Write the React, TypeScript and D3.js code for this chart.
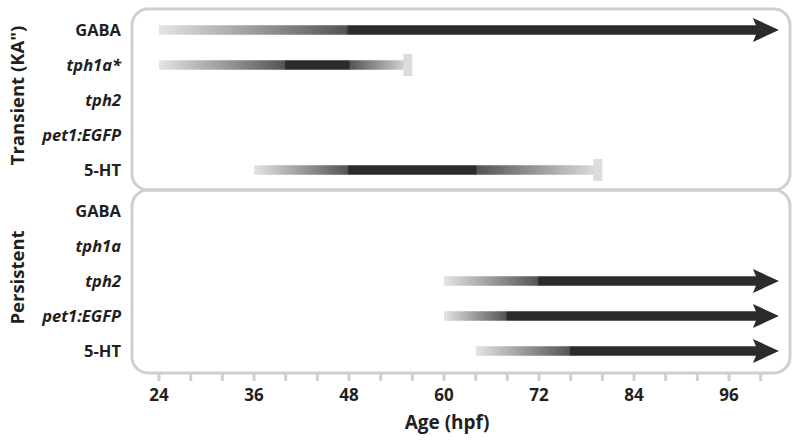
import React from 'react'
import * as d3 from 'd3'

// row labels of the two panels
const transientRows = ['GABA', 'tph1a*', 'tph2', 'pet1:EGFP', '5-HT']
const persistentRows = ['GABA', 'tph1a', 'tph2', 'pet1:EGFP', '5-HT']
const italicRows = ['tph1a*', 'tph1a', 'tph2', 'pet1:EGFP']
const panelTitles = ['Transient (KA")', 'Persistent']

// expression bars: start (hpf), where it reaches full dark, where it starts fading, end
const transientBars = [
  { row: 'GABA', start: 24, darkFrom: 48, darkTo: null, end: 102.3, ending: 'arrow' },
  { row: 'tph1a*', start: 24, darkFrom: 40, darkTo: 48, end: 56, ending: 'cap' },
  { row: '5-HT', start: 36, darkFrom: 48, darkTo: 64, end: 80, ending: 'cap' },
]
const persistentBars = [
  { row: 'tph2', start: 60, darkFrom: 72, darkTo: null, end: 102.3, ending: 'arrow' },
  { row: 'pet1:EGFP', start: 60, darkFrom: 68, darkTo: null, end: 102.3, ending: 'arrow' },
  { row: '5-HT', start: 64, darkFrom: 76, darkTo: null, end: 102.3, ending: 'arrow' },
]

const minorTicks = d3.range(24, 101, 4)
const labelTicks = [24, 36, 48, 60, 72, 84, 96]

const W = 800
const H = 442
const LIGHT = '#e4e4e4'
const MID = '#555555'
const DARK = '#2b2b2b'
const BOX = '#cfcfcf'
const FONT = '"Open Sans", "Noto Sans", sans-serif'

const x = d3.scaleLinear().domain([24, 100]).range([159, 760.7])

const panels = [
  { title: panelTitles[0], rows: transientRows, bars: transientBars, top: 9, bottom: 190 },
  { title: panelTitles[1], rows: persistentRows, bars: persistentBars, top: 190, bottom: 373 },
]

export default function App() {
  const boxLeft = 132
  const boxRight = 790
  const r = 16
  const barH = 9.5

  return (
    <div style={{ position: 'fixed', left: 0, top: 0 }}>
      <svg width={W} height={H} style={{ display: 'block', background: '#fff' }} fontFamily={FONT}>
        <defs>
          {panels.map((p, pi) =>
            p.bars.map((b, bi) => {
              const x1 = x(b.start)
              const x2 = x(b.end)
              const off = (v: number) => (x(v) - x1) / (x2 - x1)
              const stops: [number, string][] = [
                [0, LIGHT],
                [off(b.darkFrom) - 0.005, MID],
                [off(b.darkFrom), DARK],
              ]
              if (b.darkTo != null) {
                stops.push([off(b.darkTo), DARK])
                stops.push([off(b.darkTo) + 0.005, MID])
                stops.push([1, LIGHT])
              } else {
                stops.push([1, DARK])
              }
              return (
                <linearGradient key={`g${pi}-${bi}`} id={`grad-${pi}-${bi}`} gradientUnits="userSpaceOnUse" x1={x1} x2={x2} y1={0} y2={0}>
                  {stops.map((s, si) => (
                    <stop key={si} offset={Math.max(0, Math.min(1, s[0]))} stopColor={s[1]} />
                  ))}
                </linearGradient>
              )
            })
          )}
        </defs>

        {panels.map((p, pi) => {
          const y = d3.scalePoint().domain(p.rows).range([p.top + 21, p.top + 161])
          const midY = (p.top + p.bottom) / 2
          return (
            <g key={pi}>
              <rect x={boxLeft} y={p.top} width={boxRight - boxLeft} height={p.bottom - p.top} rx={r} ry={r}
                fill="none" stroke={BOX} strokeWidth={3} />
              <text transform={`translate(24,${midY - 4}) rotate(-90)`} textAnchor="middle" fontSize={18.5} fontWeight={700} fill="#231f20">
                {p.title}
              </text>
              {p.rows.map((row) => (
                <text key={row} x={121} y={(y(row) as number) + 5.5} textAnchor="end" fontSize={16.5} fontWeight={700}
                  fontStyle={italicRows.includes(row) ? 'italic' : 'normal'} fill="#231f20">
                  {row}
                </text>
              ))}
              {p.bars.map((b, bi) => {
                const cy = y(b.row) as number
                const xs = x(b.start)
                const xe = x(b.end)
                const fill = `url(#grad-${pi}-${bi})`
                if (b.ending === 'arrow') {
                  const headL = 26
                  const headH = 12
                  return (
                    <g key={bi}>
                      <rect x={xs} y={cy - barH / 2} width={xe - headL + 5 - xs} height={barH} fill={fill} />
                      <path d={`M${xe - headL},${cy - headH} L${xe},${cy} L${xe - headL},${cy + headH} L${xe - headL + 5},${cy} Z`} fill={DARK} />
                    </g>
                  )
                }
                return (
                  <g key={bi}>
                    <rect x={xs} y={cy - barH / 2} width={xe - xs - 4} height={barH} fill={fill} />
                    <rect x={xe - 9} y={cy - 11} width={9} height={22} fill="#dcdcdc" />
                  </g>
                )
              })}
            </g>
          )
        })}

        {minorTicks.map((t) => (
          <rect key={t} x={x(t) - 1.5} y={374} width={3} height={7} fill={BOX} />
        ))}
        {labelTicks.map((t) => (
          <text key={t} x={x(t)} y={401} textAnchor="middle" fontSize={17} fontWeight={700} fill="#231f20">
            {t}
          </text>
        ))}
        <text x={447} y={429} textAnchor="middle" fontSize={19} fontWeight={700} fill="#231f20">
          Age (hpf)
        </text>
      </svg>
    </div>
  )
}
